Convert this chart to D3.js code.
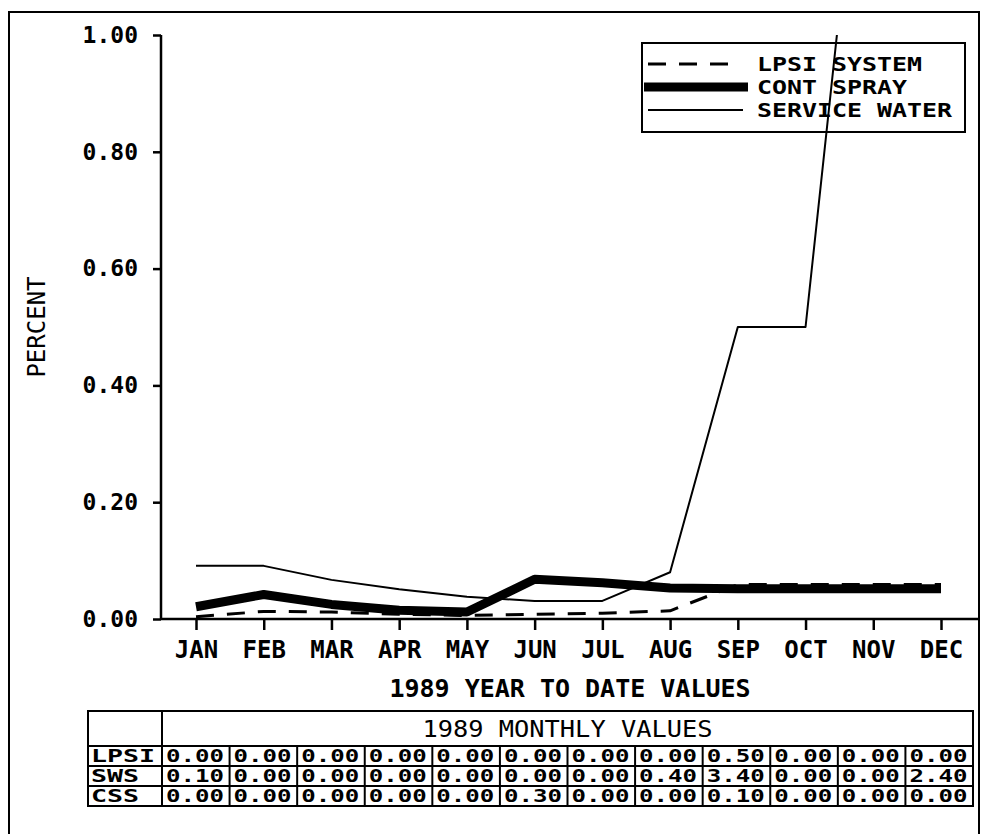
<!DOCTYPE html>
<html>
<head>
<meta charset="utf-8">
<script src="https://cdn.jsdelivr.net/npm/d3@7"></script>
<style>
	html, body { margin: 0; padding: 0; background: #fff; }
	svg { display: block; }
	text { font-family: "DejaVu Sans Mono", monospace; fill: #000; }
	.tick-label { font-size: 23px; font-weight: bold; }
	.month-label { font-size: 24px; font-weight: bold; }
	.title { font-size: 25px; font-weight: bold; }
	.legend-label { font-size: 20px; font-weight: bold; }
	.cell { font-size: 18px; font-weight: bold; }
</style>
</head>
<body>
<div id="chart"></div>
<script>
const months = ["JAN", "FEB", "MAR", "APR", "MAY", "JUN", "JUL", "AUG", "SEP", "OCT", "NOV", "DEC"];
const yTicks = [0, 0.2, 0.4, 0.6, 0.8, 1.0];

// year to date values
const lpsiYtd = [0.004, 0.013, 0.012, 0.008, 0.006, 0.008, 0.010, 0.014, 0.059, 0.059, 0.059, 0.059];
const contSprayYtd = [0.021, 0.042, 0.025, 0.015, 0.012, 0.068, 0.062, 0.053, 0.052, 0.052, 0.052, 0.052];
const serviceWaterYtd = [0.091, 0.091, 0.067, 0.051, 0.038, 0.031, 0.031, 0.080, 0.50, 0.50, 1.58, 1.75];

// monthly table
const tableRows = ["LPSI", "SWS", "CSS"];
const lpsiMonthly = [0.00, 0.00, 0.00, 0.00, 0.00, 0.00, 0.00, 0.00, 0.50, 0.00, 0.00, 0.00];
const swsMonthly = [0.10, 0.00, 0.00, 0.00, 0.00, 0.00, 0.00, 0.40, 3.40, 0.00, 0.00, 2.40];
const cssMonthly = [0.00, 0.00, 0.00, 0.00, 0.00, 0.30, 0.00, 0.00, 0.10, 0.00, 0.00, 0.00];

const legendItems = ["LPSI SYSTEM", "CONT SPRAY", "SERVICE WATER"];

const width = 983,
			height = 834;

const svg = d3.select("#chart").append("svg")
	.attr("width", width)
	.attr("height", height);

// outer frame (bottom runs off the page)
svg.append("path")
	.attr("d", "M9,840 V12 H979 V840")
	.attr("fill", "none")
	.attr("stroke", "#000")
	.attr("stroke-width", 2);

const x = d3.scalePoint().domain(months).range([196, 941]),
			y = d3.scaleLinear().domain([0, 1]).range([619, 35]);

const axisLeft = 161,
			axisRight = 979;

// y axis
const yAxis = svg.append("g")
	.attr("transform", "translate(" + axisLeft + ",0)")
	.call(d3.axisLeft(y).tickValues(yTicks).tickFormat(d3.format(".2f")).tickSize(8).tickPadding(15));
yAxis.select(".domain").attr("d", "M0," + y(1) + "V" + y(0)).attr("stroke-width", 2.5);
yAxis.selectAll(".tick line").attr("stroke-width", 2.5);
yAxis.selectAll(".tick text").attr("class", "tick-label").attr("font-size", null).attr("font-family", null);

// x axis
const xAxis = svg.append("g")
	.attr("transform", "translate(0," + y(0) + ")")
	.call(d3.axisBottom(x).tickSize(11).tickPadding(11));
xAxis.select(".domain").attr("d", "M" + axisLeft + ",0H" + axisRight).attr("stroke-width", 2.5);
xAxis.selectAll(".tick line").attr("stroke-width", 2.5);
xAxis.selectAll(".tick text").attr("class", "month-label").attr("font-size", null).attr("font-family", null);

svg.append("text")
	.attr("transform", "translate(36,327) rotate(-90)")
	.attr("dy", "0.36em")
	.attr("text-anchor", "middle")
	.style("font-size", "24px")
	.text("PERCENT");

svg.append("text")
	.attr("class", "title")
	.attr("x", 570)
	.attr("y", 688)
	.attr("dy", "0.36em")
	.attr("text-anchor", "middle")
	.text("1989 YEAR TO DATE VALUES");

// lines
svg.append("clipPath").attr("id", "plot-clip")
	.append("rect")
	.attr("x", axisLeft).attr("y", y(1))
	.attr("width", axisRight - axisLeft).attr("height", y(0) - y(1));

const line = d3.line()
	.x((d, i) => x(months[i]))
	.y(d => y(d));

const series = [
	{ values: serviceWaterYtd, width: 2, dash: null, x1: 648, x2: 743 },
	{ values: contSprayYtd, width: 9, dash: null, x1: 644, x2: 748 },
	{ values: lpsiYtd, width: 3, dash: "18,13", x1: 648, x2: 730 }
];

const plot = svg.append("g").attr("clip-path", "url(#plot-clip)");
series.forEach(function(s) {
	plot.append("path")
		.attr("d", line(s.values))
		.attr("fill", "none")
		.attr("stroke", "#000")
		.attr("stroke-width", s.width)
		.attr("stroke-linejoin", "round")
		.attr("stroke-dasharray", s.dash);
});

// legend (no fill, the service water line runs through it)
const legend = svg.append("g");
legend.append("rect")
	.attr("x", 642).attr("y", 43)
	.attr("width", 323).attr("height", 89)
	.attr("fill", "none")
	.attr("stroke", "#000")
	.attr("stroke-width", 2);

const legendStyles = [series[2], series[1], series[0]];
legendItems.forEach(function(label, i) {
	const ly = 64 + i * 23;
	const st = legendStyles[i];
	legend.append("line")
		.attr("x1", st.x1).attr("x2", st.x2)
		.attr("y1", ly).attr("y2", ly)
		.attr("stroke", "#000")
		.attr("stroke-width", st.width)
		.attr("stroke-dasharray", st.dash);
	legend.append("text")
		.attr("class", "legend-label")
		.attr("x", 757)
		.attr("y", ly)
		.attr("dy", "0.36em")
		.attr("textLength", label.length * 15)
		.attr("lengthAdjust", "spacingAndGlyphs")
		.text(label);
});

// the monthly value table
const tableLeft = 88,
			firstCol = 162,
			tableRight = 973,
			tableTop = 711,
			headBottom = 746,
			rowH = 20;

const col = d3.scaleBand().domain(months).range([firstCol, tableRight]);
const tableData = [lpsiMonthly, swsMonthly, cssMonthly];
const tableBottom = headBottom + rowH * tableRows.length;

const table = svg.append("g")
	.attr("fill", "none")
	.attr("stroke", "#000")
	.attr("stroke-width", 2);

table.append("rect")
	.attr("x", tableLeft).attr("y", tableTop)
	.attr("width", tableRight - tableLeft).attr("height", tableBottom - tableTop);
table.append("line")
	.attr("x1", firstCol).attr("x2", firstCol)
	.attr("y1", tableTop).attr("y2", tableBottom);
tableRows.forEach(function(r, i) {
	const ry = headBottom + i * rowH;
	table.append("line")
		.attr("x1", tableLeft).attr("x2", tableRight)
		.attr("y1", ry).attr("y2", ry);
});
months.slice(1).forEach(function(m) {
	table.append("line")
		.attr("x1", col(m)).attr("x2", col(m))
		.attr("y1", headBottom).attr("y2", tableBottom);
});

svg.append("text")
	.attr("x", (firstCol + tableRight) / 2)
	.attr("y", (tableTop + headBottom) / 2)
	.attr("dy", "0.36em")
	.attr("text-anchor", "middle")
	.style("font-size", "23px")
	.attr("textLength", 290)
	.attr("lengthAdjust", "spacingAndGlyphs")
	.text("1989 MONTHLY VALUES");

tableRows.forEach(function(r, i) {
	const ry = headBottom + i * rowH + rowH / 2;
	svg.append("text")
		.attr("class", "cell")
		.attr("x", tableLeft + 3)
		.attr("y", ry)
		.attr("dy", "0.36em")
		.attr("textLength", r.length * 16)
		.attr("lengthAdjust", "spacingAndGlyphs")
		.text(r);
	tableData[i].forEach(function(v, j) {
		svg.append("text")
			.attr("class", "cell")
			.attr("x", col(months[j]) + 4)
			.attr("y", ry)
			.attr("dy", "0.36em")
			.attr("textLength", 58)
			.attr("lengthAdjust", "spacingAndGlyphs")
			.text(d3.format(".2f")(v));
	});
});
</script>
</body>
</html>
